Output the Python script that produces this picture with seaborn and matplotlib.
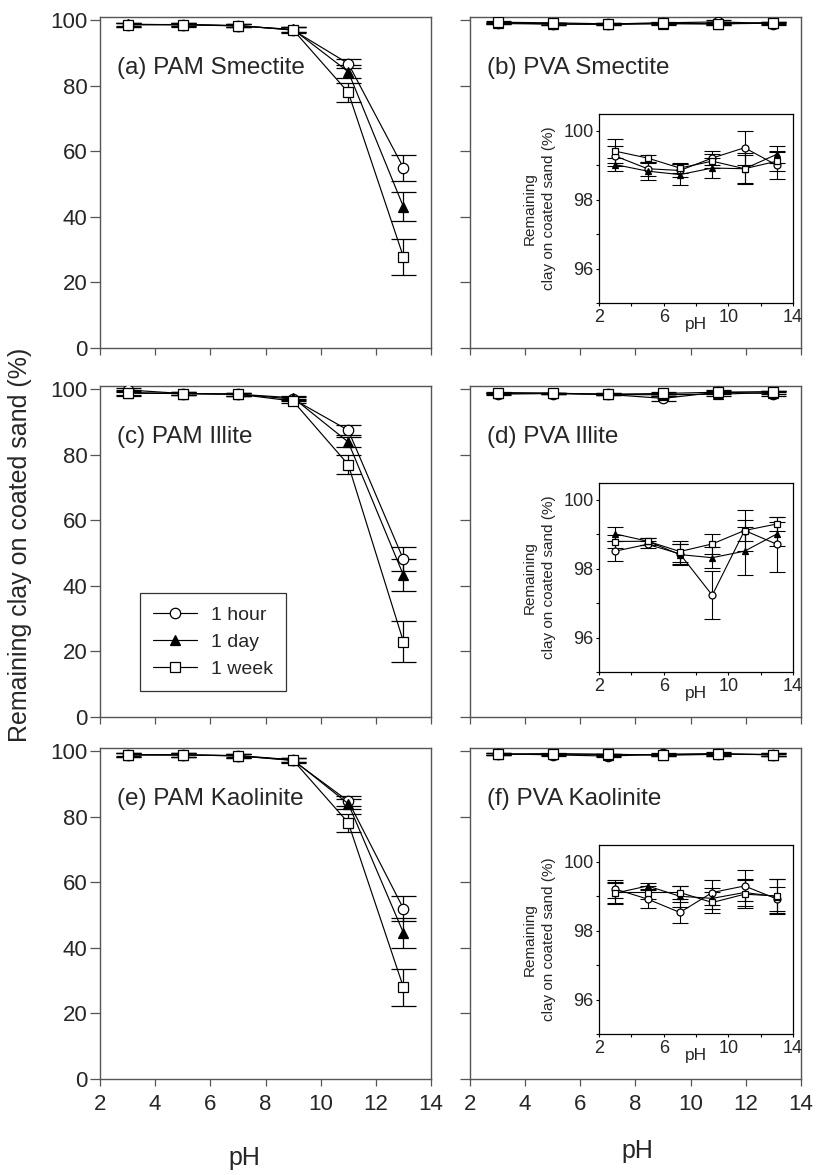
import numpy as np
import matplotlib
matplotlib.use("Agg")
import matplotlib.pyplot as plt
import seaborn as sns
from matplotlib.ticker import FixedLocator

sns.set_theme(style="ticks")
plt.rcParams['font.family'] = ['Liberation Sans', 'DejaVu Sans']

# ---------------- data ----------------
ph = [3, 5, 7, 9, 11, 13]
series_labels = ["1 hour", "1 day", "1 week"]

pam_smectite_hour = [98.7, 98.7, 98.4, 97.0, 86.8, 55.0]
pam_smectite_day = [98.8, 98.6, 98.3, 97.2, 84.3, 43.1]
pam_smectite_week = [98.6, 98.7, 98.3, 97.1, 78.0, 27.8]
pam_smectite_hour_err = [0.6, 0.5, 0.5, 0.8, 1.5, 3.9]
pam_smectite_day_err = [0.5, 0.5, 0.5, 0.8, 2.0, 4.4]
pam_smectite_week_err = [0.5, 0.5, 0.5, 0.8, 2.9, 5.6]

pam_illite_hour = [99.8, 98.7, 98.5, 97.0, 87.5, 48.1]
pam_illite_day = [99.0, 98.7, 98.5, 97.4, 83.9, 43.3]
pam_illite_week = [98.8, 98.7, 98.5, 96.4, 77.0, 23.0]
pam_illite_hour_err = [0.6, 0.5, 0.5, 0.6, 1.5, 3.7]
pam_illite_day_err = [0.8, 0.5, 0.5, 0.6, 1.5, 4.8]
pam_illite_week_err = [0.8, 0.5, 0.5, 0.6, 2.9, 6.2]

pam_kaolinite_hour = [98.9, 98.9, 98.6, 97.2, 84.8, 52.0]
pam_kaolinite_day = [99.0, 98.9, 98.7, 97.4, 84.0, 44.6]
pam_kaolinite_week = [98.9, 98.9, 98.6, 97.3, 78.2, 28.0]
pam_kaolinite_hour_err = [0.5, 0.5, 0.5, 0.7, 1.5, 3.8]
pam_kaolinite_day_err = [0.5, 0.5, 0.5, 0.7, 1.5, 4.5]
pam_kaolinite_week_err = [0.5, 0.5, 0.5, 0.7, 2.8, 5.7]

pva_smectite_hour = [99.27, 98.90, 98.85, 99.21, 99.51, 99.00]
pva_smectite_day = [99.02, 98.83, 98.73, 98.92, 98.90, 99.32]
pva_smectite_week = [99.41, 99.21, 98.92, 99.12, 98.90, 99.12]
pva_smectite_hour_err = [0.3, 0.2, 0.2, 0.2, 0.5, 0.4]
pva_smectite_day_err = [0.2, 0.25, 0.3, 0.3, 0.45, 0.25]
pva_smectite_week_err = [0.35, 0.1, 0.15, 0.2, 0.4, 0.3]

pva_illite_hour = [98.51, 98.71, 98.43, 97.23, 99.11, 98.71]
pva_illite_day = [99.01, 98.80, 98.41, 98.32, 98.51, 99.01]
pva_illite_week = [98.79, 98.80, 98.50, 98.72, 99.11, 99.30]
pva_illite_hour_err = [0.3, 0.1, 0.3, 0.7, 0.3, 0.8]
pva_illite_day_err = [0.2, 0.1, 0.3, 0.3, 0.7, 0.35]
pva_illite_week_err = [0.2, 0.1, 0.3, 0.3, 0.6, 0.2]

pva_kaolinite_hour = [99.21, 98.92, 98.53, 99.11, 99.30, 98.92]
pva_kaolinite_day = [99.09, 99.30, 99.00, 98.94, 99.11, 98.99]
pva_kaolinite_week = [99.11, 99.11, 99.11, 98.82, 99.06, 99.01]
pva_kaolinite_hour_err = [0.25, 0.25, 0.3, 0.35, 0.45, 0.35]
pva_kaolinite_day_err = [0.3, 0.1, 0.3, 0.3, 0.4, 0.5]
pva_kaolinite_week_err = [0.3, 0.2, 0.2, 0.3, 0.4, 0.5]

panel_titles = ["(a) PAM Smectite", "(b) PVA Smectite",
                "(c) PAM Illite", "(d) PVA Illite",
                "(e) PAM Kaolinite", "(f) PVA Kaolinite"]

panels = [
    ([pam_smectite_hour, pam_smectite_day, pam_smectite_week],
     [pam_smectite_hour_err, pam_smectite_day_err, pam_smectite_week_err]),
    ([pva_smectite_hour, pva_smectite_day, pva_smectite_week],
     [pva_smectite_hour_err, pva_smectite_day_err, pva_smectite_week_err]),
    ([pam_illite_hour, pam_illite_day, pam_illite_week],
     [pam_illite_hour_err, pam_illite_day_err, pam_illite_week_err]),
    ([pva_illite_hour, pva_illite_day, pva_illite_week],
     [pva_illite_hour_err, pva_illite_day_err, pva_illite_week_err]),
    ([pam_kaolinite_hour, pam_kaolinite_day, pam_kaolinite_week],
     [pam_kaolinite_hour_err, pam_kaolinite_day_err, pam_kaolinite_week_err]),
    ([pva_kaolinite_hour, pva_kaolinite_day, pva_kaolinite_week],
     [pva_kaolinite_hour_err, pva_kaolinite_day_err, pva_kaolinite_week_err]),
]

# ---------------- styles ----------------
markers = ["o", "^", "s"]
facecolors = ["white", "black", "white"]
spine_col = "#555555"

W, H = 817, 1175
fig = plt.figure(figsize=(W / 100, H / 100), dpi=100)

col_left = [100 / W, 470 / W]
ax_w = 331 / W
ax_h = 331 / H
row_bottom = [1 - 348 / H, 1 - 717 / H, 1 - 1079 / H]


def draw_series(ax, vals_list, err_list, ms, capsize, lw, elw):
    for vals, errs in zip(vals_list, err_list):
        ax.errorbar(ph, vals, yerr=errs, fmt="none", ecolor="black",
                    elinewidth=elw, capsize=capsize, capthick=elw, zorder=2)
    for i, vals in enumerate(vals_list):
        sns.lineplot(x=ph, y=vals, ax=ax, color="black", linewidth=lw,
                     marker=markers[i], markersize=ms,
                     markerfacecolor=facecolors[i], markeredgecolor="black",
                     markeredgewidth=0.9, label=series_labels[i],
                     legend=False, zorder=3 + i)


axes = []
for idx in range(6):
    r, c = divmod(idx, 2)
    ax = fig.add_axes([col_left[c], row_bottom[r], ax_w, ax_h])
    axes.append(ax)
    vals_list, err_list = panels[idx]
    draw_series(ax, vals_list, err_list, ms=7.5, capsize=9, lw=0.85, elw=0.9)
    ax.set_xlim(2, 14)
    ax.set_ylim(0, 101)
    ax.set_xticks([2, 4, 6, 8, 10, 12, 14])
    ax.set_yticks([0, 20, 40, 60, 80, 100])
    ax.tick_params(axis="y", direction="out", length=7, width=0.9,
                   color=spine_col, labelsize=16, pad=2)
    ax.tick_params(axis="x", direction="out", length=5, width=0.9,
                   color=spine_col, labelsize=16, pad=6)
    for s in ax.spines.values():
        s.set_color(spine_col)
        s.set_linewidth(1.0)
    ax.set_xlabel("")
    ax.set_ylabel("")
    if c == 1:
        ax.tick_params(axis="y", labelleft=False)
    if r < 2:
        ax.tick_params(axis="x", labelbottom=False)
    ax.text(0.05, 0.845, panel_titles[idx], transform=ax.transAxes,
            fontsize=17.5, ha="left", va="center")

    if c == 1:
        ins = ax.inset_axes([0.39, 0.136, 0.586, 0.572])
        draw_series(ins, vals_list, err_list, ms=5, capsize=5.5, lw=0.8, elw=0.8)
        ins.set_xlim(2, 14)
        ins.set_ylim(95, 100.5)
        ins.xaxis.set_major_locator(FixedLocator([2, 6, 10, 14]))
        ins.xaxis.set_minor_locator(FixedLocator([4, 8, 12]))
        ins.yaxis.set_major_locator(FixedLocator([96, 98, 100]))
        ins.yaxis.set_minor_locator(FixedLocator([95, 97, 99]))
        ins.tick_params(which="both", direction="out", length=2.5, width=0.8,
                        color="black", labelsize=13, pad=1.5)
        for s in ins.spines.values():
            s.set_color("black")
            s.set_linewidth(0.9)
        ins.set_xlabel("pH", fontsize=12.5, labelpad=-6)
        ins.set_ylabel("Remaining\nclay on coated sand (%)", fontsize=11,
                       labelpad=5, linespacing=1.5)

# legend in panel (c)
leg_ax = axes[2]
handles, labels = leg_ax.get_legend_handles_labels()
leg = leg_ax.legend(handles, labels, loc="lower left",
                    bbox_to_anchor=(0.121, 0.079), borderaxespad=0,
                    fontsize=14, frameon=True, fancybox=False,
                    edgecolor="black", handlelength=2.3, handletextpad=0.7,
                    borderpad=0.65, labelspacing=0.5)
leg.get_frame().set_linewidth(0.9)

# x-labels
fig.text(244 / W, 1 - 1158 / H, "pH", fontsize=18, ha="center", va="center")
fig.text(637 / W, 1 - 1151 / H, "pH", fontsize=18, ha="center", va="center")

# shared y-label
fig.text(20 / W, 1 - 545 / H, "Remaining clay on coated sand (%)", fontsize=18,
         rotation=90, ha="center", va="center")

fig.savefig("out.png", dpi=100)
